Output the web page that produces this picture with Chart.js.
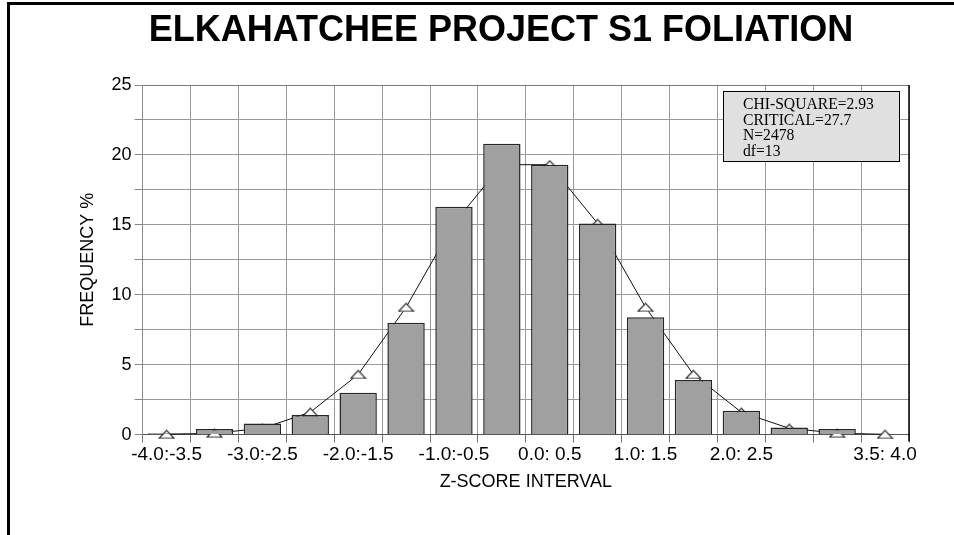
<!DOCTYPE html>
<html>
<head>
<meta charset="utf-8">
<title>Elkahatchee Project S1 Foliation</title>
<script src="https://cdn.jsdelivr.net/npm/chart.js@4.4.1/dist/chart.umd.min.js"></script>
<style>
    html, body { margin: 0; padding: 0; background: #fff; }
    #wrap { position: relative; width: 954px; height: 535px; }
</style>
</head>
<body>
<div id="wrap"><canvas id="freq-chart"></canvas></div>
<script>
// z-score intervals along the x axis
const categories = ['-4.0:-3.5', '-3.5:-3.0', '-3.0:-2.5', '-2.5:-2.0', '-2.0:-1.5', '-1.5:-1.0', '-1.0:-0.5', '-0.5: 0.0',
    '0.0: 0.5', '0.5: 1.0', '1.0: 1.5', '1.5: 2.0', '2.0: 2.5', '2.5: 3.0', '3.0: 3.5', '3.5: 4.0'];
// only these interval labels get printed under the axis
const tickLabels = ['-4.0:-3.5', '-3.0:-2.5', '-2.0:-1.5', '-1.0:-0.5', '0.0: 0.5', '1.0: 1.5', '2.0: 2.5', '3.5: 4.0'];
// observed frequency % (bars)
const observed = [0.1, 0.4, 0.8, 1.4, 3.0, 8.0, 16.3, 20.8, 19.3, 15.1, 8.4, 3.9, 1.7, 0.5, 0.4, 0.05];
// expected normal frequency % (line with triangles)
const expected = [0.02, 0.1, 0.45, 1.6, 4.3, 9.1, 15.1, 19.3, 19.3, 15.1, 9.1, 4.3, 1.6, 0.45, 0.1, 0.02];
// test statistics shown in the box
const statsLines = ['CHI-SQUARE=2.93', 'CRITICAL=27.7', 'N=2478', 'df=13'];
const titleText = 'ELKAHATCHEE PROJECT S1 FOLIATION';

const sans = '"Liberation Sans", Arial, sans-serif';

// flat open triangle used as the point marker
const tri = document.createElement('canvas');
tri.width = 17;
tri.height = 10;
const tctx = tri.getContext('2d');
tctx.beginPath();
tctx.moveTo(1, 9);
tctx.lineTo(8.5, 1);
tctx.lineTo(16, 9);
tctx.closePath();
tctx.fillStyle = '#fff';
tctx.fill();
tctx.strokeStyle = '#222';
tctx.lineWidth = 1.1;
tctx.stroke();

// page frame, title, black right edge and the stats box
const decorations = {
    id: 'decorations',
    beforeDraw(chart) {
        const ctx = chart.ctx;
        ctx.save();
        ctx.fillStyle = '#fff';
        ctx.fillRect(0, 0, chart.width, chart.height);
        ctx.fillStyle = '#000';
        ctx.fillRect(7, 2, chart.width - 7, 3);
        ctx.fillRect(7, 2, 3, chart.height - 2);
        ctx.font = 'bold 36px ' + sans;
        ctx.textAlign = 'center';
        ctx.textBaseline = 'alphabetic';
        ctx.fillText(titleText, 501, 41);
        ctx.restore();
    },
    afterDraw(chart) {
        const ctx = chart.ctx;
        const area = chart.chartArea;
        ctx.save();
        // right edge of the plot
        ctx.strokeStyle = '#000';
        ctx.lineWidth = 1.5;
        ctx.beginPath();
        ctx.moveTo(area.right, area.top);
        ctx.lineTo(area.right, area.bottom + 7);
        ctx.stroke();

        // stats box
        const bx = area.right - 186, by = area.top + 6, bw = 176, bh = 70;
        ctx.fillStyle = '#e0e0e0';
        ctx.fillRect(bx, by, bw, bh);
        ctx.strokeStyle = '#000';
        ctx.lineWidth = 1;
        ctx.strokeRect(bx + 0.5, by + 0.5, bw, bh);
        ctx.fillStyle = '#000';
        ctx.font = '17px "Liberation Serif", "Times New Roman", serif';
        ctx.textAlign = 'left';
        ctx.textBaseline = 'alphabetic';
        statsLines.forEach((line, i) => {
            ctx.save();
            ctx.translate(bx + 20, by + 18 + i * 15.5);
            ctx.scale(0.92, 1);
            ctx.fillText(line, 0, 0);
            ctx.restore();
        });
        ctx.restore();
    }
};

const data = {
    labels: categories,
    datasets: [
        {
            type: 'bar',
            data: observed,
            backgroundColor: '#a0a0a0',
            borderColor: '#262626',
            borderWidth: 1.5,
            barPercentage: 0.78,
            categoryPercentage: 1,
            order: 0
        },
        {
            type: 'line',
            data: expected,
            borderColor: '#111',
            borderWidth: 1,
            tension: 0,
            pointStyle: tri,
            pointRotation: 0,
            clip: 10,
            order: 1
        }
    ]
};

const config = {
    data,
    options: {
        responsive: true,
        maintainAspectRatio: false,
        animation: false,
        layout: {
            padding: { top: 85, left: 66, right: 45, bottom: 38 }
        },
        plugins: {
            legend: { display: false },
            tooltip: { enabled: false },
            title: { display: false }
        },
        scales: {
            x: {
                grid: {
                    offset: true,
                    color: '#999',
                    tickLength: 8,
                    tickColor: '#777'
                },
                border: { color: '#555', width: 1 },
                ticks: {
                    autoSkip: false,
                    maxRotation: 0,
                    minRotation: 0,
                    padding: 1,
                    color: '#000',
                    font: { family: sans, size: 19 },
                    callback: function (value) {
                        const label = this.getLabelForValue(value);
                        return tickLabels.includes(label) ? label : '';
                    }
                },
                title: {
                    display: true,
                    text: 'Z-SCORE INTERVAL',
                    color: '#000',
                    font: { family: sans, size: 18 },
                    padding: { top: 4, bottom: 4 }
                }
            },
            y: {
                min: 0,
                max: 25,
                grid: {
                    color: (c) => c.tick && c.tick.value === 25 ? '#777' : '#999',
                    tickLength: 8,
                    tickColor: '#888'
                },
                border: { color: '#888', width: 1 },
                ticks: {
                    stepSize: 2.5,
                    padding: 3,
                    color: '#000',
                    font: { family: sans, size: 18 },
                    callback: (v) => v % 5 === 0 ? v : ''
                },
                title: {
                    display: true,
                    text: 'FREQUENCY %',
                    color: '#000',
                    font: { family: sans, size: 18 },
                    padding: { top: 11, bottom: 10 }
                }
            }
        }
    },
    plugins: [decorations]
};

// render the chart
const freqChart = new Chart(document.getElementById('freq-chart'), config);
</script>
</body>
</html>
